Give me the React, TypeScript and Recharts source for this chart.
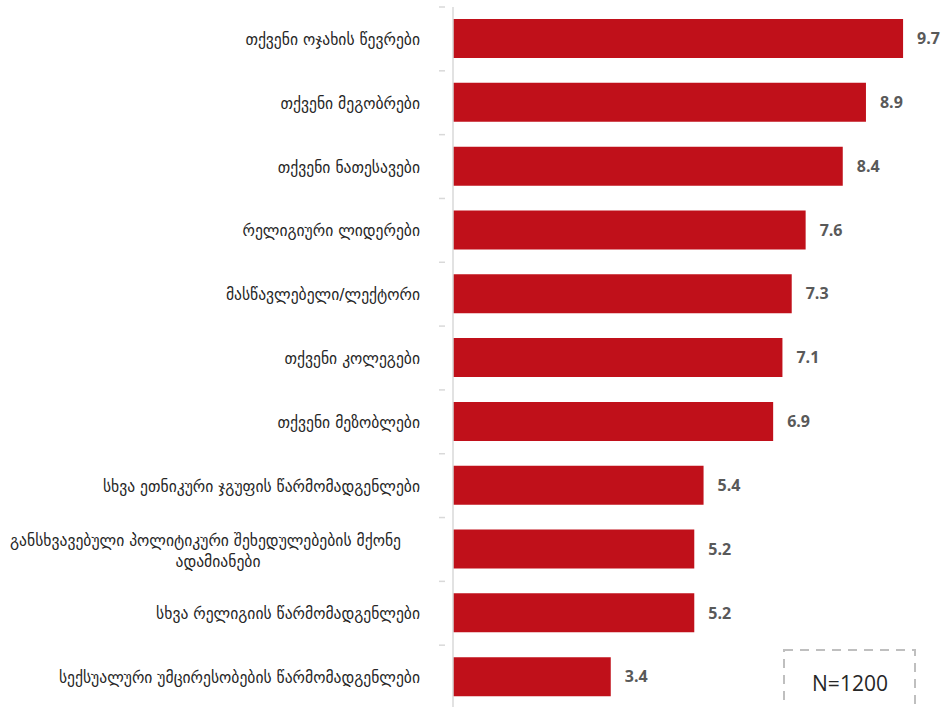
import { Bar, BarChart, LabelList, XAxis, YAxis } from "recharts";

const categories = [
  "თქვენი ოჯახის წევრები",
  "თქვენი მეგობრები",
  "თქვენი ნათესავები",
  "რელიგიური ლიდერები",
  "მასწავლებელი/ლექტორი",
  "თქვენი კოლეგები",
  "თქვენი მეზობლები",
  "სხვა ეთნიკური ჯგუფის წარმომადგენლები",
  "განსხვავებული პოლიტიკური შეხედულებების მქონე\nადამიანები",
  "სხვა რელიგიის წარმომადგენლები",
  "სექსუალური უმცირესობების წარმომადგენლები",
];

const scores = [9.7, 8.9, 8.4, 7.6, 7.3, 7.1, 6.9, 5.4, 5.2, 5.2, 3.4];

const sampleNote = "N=1200";

const data = categories.map((name, i) => ({ name, score: scores[i] }));

const LABEL_FONT = "'DejaVu Sans', sans-serif";
const BAND = 702 / categories.length;

// Excel-style tick: label at the band centre, tick mark at the band edge
function CategoryTick(props: any) {
  const { x, y, payload } = props;
  const lines = String(payload.value).split("\n");
  const edge = y - BAND / 2;
  return (
    <g>
      <line x1={x - 6} x2={x} y1={edge} y2={edge} stroke="#d9d9d9" strokeWidth={1.5} />
      {lines.length === 1 ? (
        <text
          x={420}
          y={y + 6}
          textAnchor="end"
          fontSize={15.6}
          fontFamily={LABEL_FONT}
          fill="#262626"
        >
          {lines[0]}
        </text>
      ) : (
        <text fontSize={15.6} fontFamily={LABEL_FONT} fill="#262626">
          <tspan x={401} y={y - 3} textAnchor="end">
            {lines[0]}
          </tspan>
          <tspan x={218} y={y + 18} textAnchor="middle">
            {lines[1]}
          </tspan>
        </text>
      )}
    </g>
  );
}

export default function App() {
  return (
    <div
      style={{
        position: "absolute",
        left: 0,
        top: 0,
        width: 948,
        height: 707,
        overflow: "hidden",
        background: "#fff",
      }}
    >
      <BarChart
        width={948}
        height={709}
        data={data}
        layout="vertical"
        margin={{ top: 7, right: 31, bottom: 0, left: 0 }}
      >
        <XAxis type="number" domain={[0, 10]} hide />
        <YAxis
          type="category"
          dataKey="name"
          width={453}
          axisLine={{ stroke: "#d9d9d9", strokeWidth: 1.5 }}
          tickLine={false}
          tick={<CategoryTick />}
          interval={0}
        />
        <Bar dataKey="score" fill="#c0101a" barSize={39} isAnimationActive={false}>
          <LabelList
            dataKey="score"
            position="right"
            offset={14}
            formatter={(v: any) => Number(v).toFixed(1)}
            style={{
              fontFamily: "'Open Sans', sans-serif",
              fontWeight: 700,
              fontSize: 16,
              fill: "#595959",
            }}
          />
        </Bar>
      </BarChart>
      <svg
        width={134}
        height={62}
        style={{ position: "absolute", left: 783, top: 649 }}
      >
        <rect
          x={1}
          y={1}
          width={131}
          height={70}
          fill="none"
          stroke="#bfbfbf"
          strokeWidth={2}
          strokeDasharray="9 7"
        />
        <text
          x={67}
          y={42}
          textAnchor="middle"
          fontSize={21}
          fontFamily="'Open Sans', sans-serif"
          fill="#262626"
        >
          {sampleNote}
        </text>
      </svg>
    </div>
  );
}
